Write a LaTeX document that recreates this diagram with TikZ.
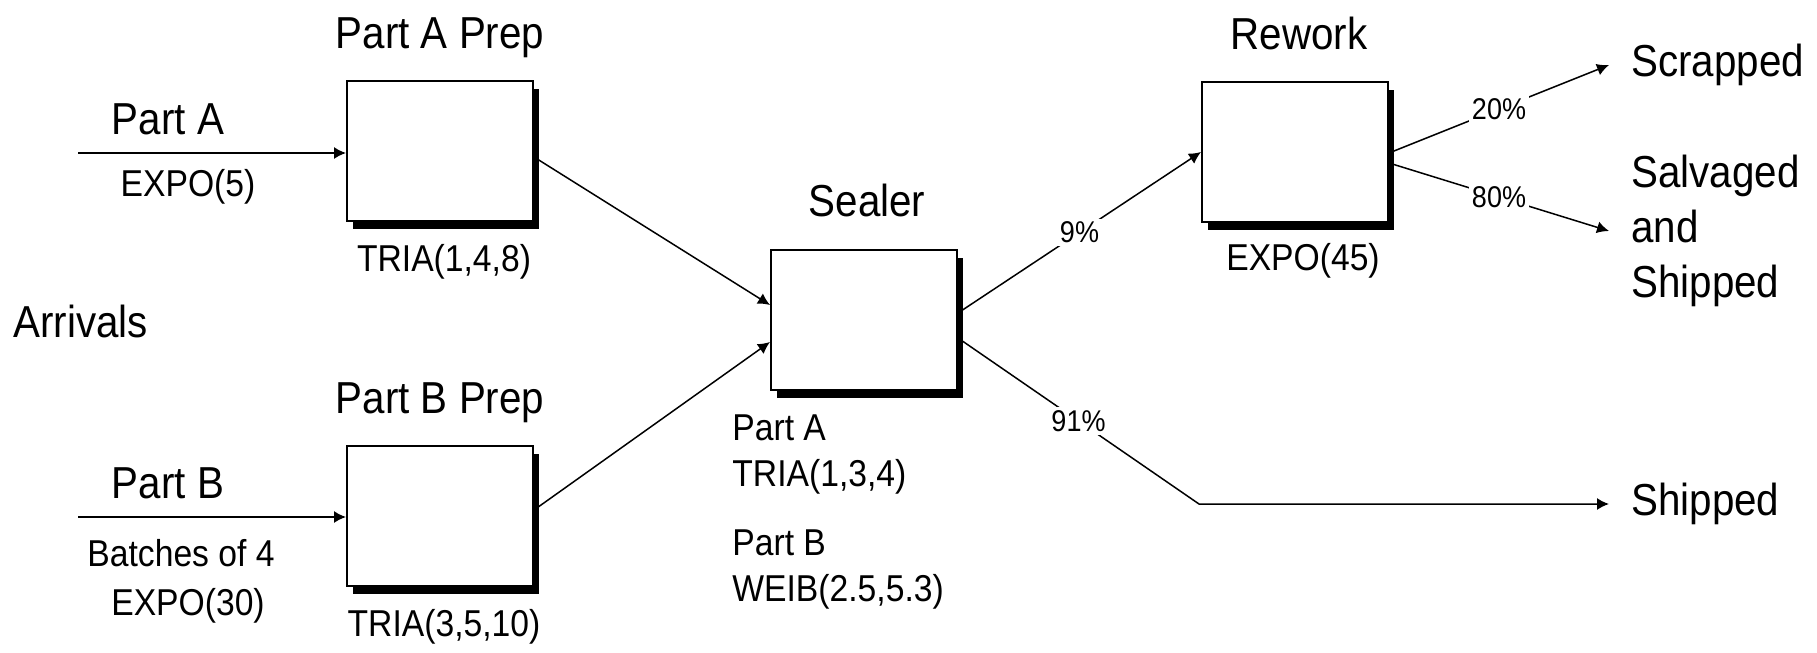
\documentclass[tikz,border=0pt]{standalone}
\usepackage{fontspec}
\setmainfont{Liberation Sans}[FakeStretch=0.9]
\usetikzlibrary{arrows.meta,calc,shadows,positioning}
\tikzset{
  station/.style={draw, line width=1pt, fill=white, minimum width=93pt, minimum height=70pt,
    drop shadow={shadow xshift=3pt, shadow yshift=-4pt, fill=black, opacity=1}},
  flow/.style={->, line width=0.75pt},
  titletext/.style={font=\fontsize{22.4}{27.5}\selectfont, inner sep=0pt},
  subtext/.style={font=\fontsize{18.7}{22}\selectfont, inner sep=0pt},
  pcttext/.style={font=\fontsize{15}{18}\selectfont, fill=white, inner sep=1.5pt},
  outtext/.style={titletext, anchor=west, inner xsep=11pt, align=left}
}

\begin{document}
\begin{tikzpicture}[x=0.5pt, y=-0.5pt, >={Latex[length=6pt,width=6pt]}]

    \useasboundingbox (0,0) rectangle (1817,653);

    % Draw stations.
    \node[station] (prepA) at (440,151) {};
    \node[station] (prepB) at (440,516) {};
    \node[station] (sealer) at (864,320) {};
    \node[station] (rework) at (1295,152) {};

    % Station names and times.
    \node[titletext, anchor=base] (prepAname) at (440,48) {Part A Prep};
    \node[titletext, anchor=base] (prepBname) at (440,413) {Part B Prep};
    \node[titletext, anchor=base] (sealername) at (867,216) {Sealer};
    \node[titletext, anchor=base] (reworkname) at (1299,49) {Rework};
    \node[subtext, anchor=base] (prepAtime) at (444,271) {TRIA(1,4,8)};
    \node[subtext, anchor=base] (prepBtime) at (444,636) {TRIA(3,5,10)};
    \node[subtext, anchor=base] (reworktime) at (1303,270) {EXPO(45)};
    \node[subtext, anchor=base west] (sealerA) at (732,440) {Part A};
    \node[subtext, anchor=base west] (sealerAtime) at (732,486) {TRIA(1,3,4)};
    \node[subtext, anchor=base west] (sealerB) at (732,555) {Part B};
    \node[subtext, anchor=base west] (sealerBtime) at (732,601) {WEIB(2.5,5.3)};

    % Arrivals.
    \node[titletext, anchor=base west] (arrivals) at (13,337) {Arrivals};
    \node[titletext, anchor=base] (partA) at (168,134) {Part A};
    \node[subtext, anchor=base] (partAtime) at (188,196) {EXPO(5)};
    \node[titletext, anchor=base] (partB) at (168,498) {Part B};
    \node[subtext, anchor=base] (partBbatch) at (181,566) {Batches of 4};
    \node[subtext, anchor=base] (partBtime) at (188,615) {EXPO(30)};
    \coordinate (inA) at (78,153);
    \coordinate (inB) at (78,517);
    \draw[flow] (inA) -- (inA -| prepA.west);
    \draw[flow] (inB) -- (inB -| prepB.west);

    % Exits.
    \node[outtext] (scrapped) at (1609,65) {Scrapped};
    \node[outtext] (salvaged) at (1609,231) {Salvaged\\and\\Shipped};
    \node[outtext] (shipped) at (1609,504) {Shipped};
    \coordinate (bend) at (1199,504);

    % Draw flows.
    \draw[flow] ($(prepA.east)+(0,6)$) -- ($(sealer.west)+(0,-15)$);
    \draw[flow] ($(prepB.east)+(0,-6)$) -- ($(sealer.west)+(0,22)$);
    \draw[flow] ($(sealer.east)+(0,-7)$) -- node[pcttext] (p9) {9\%} (rework.west);
    \draw[flow] ($(sealer.east)+(0,18)$) -- node[pcttext] (p91) {91\%} (bend) -- (shipped.west);
    \draw[flow] ($(rework.east)+(0,1)$) -- node[pcttext] (p20) {20\%} (scrapped.west);
    \draw[flow] ($(rework.east)+(0,11)$) -- node[pcttext] (p80) {80\%} (salvaged.west);

\end{tikzpicture}
\end{document}
